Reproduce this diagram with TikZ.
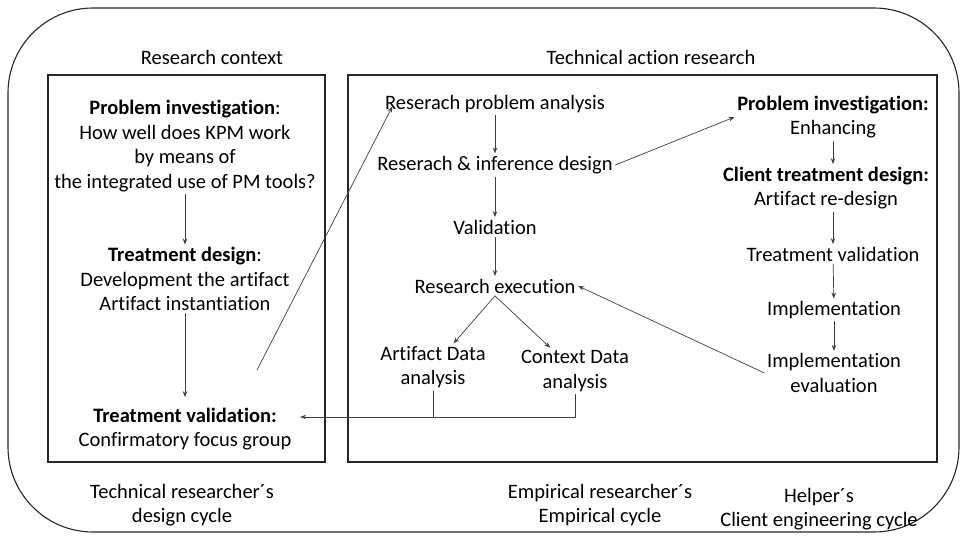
\documentclass[tikz,border=0pt]{standalone}
\usepackage{fontspec}
\setmainfont{Carlito}[Ligatures={NoCommon}]
\usetikzlibrary{arrows.meta}
\tikzset{
  txt/.style={align=center, inner sep=2.5pt, font=\fontsize{20.5}{24.5}\selectfont},
  arr/.style={draw=black!75, line width=0.7pt, -{Stealth[length=6pt,width=4.5pt]}},
  frame/.style={draw=black!85, line width=1.1pt}
}

\begin{document}
\begin{tikzpicture}[x=1pt,y=-1pt]
\useasboundingbox (0,0) rectangle (962,536);
\draw[frame, rounded corners=85pt] (8,8) rectangle (959,532);
\draw[frame] (48,75) rectangle (325,462);
\draw[frame] (348,75) rectangle (937,462);
% headings
\node[txt] (ctx) at (212,57) {Research context};
\node[txt] (tar) at (651,57) {Technical action research};
% design cycle
\node[txt] (pinv) at (185,146) {\textbf{Problem investigation}:\\How well does KPM work\\by means of\\the integrated use of PM tools?};
\node[txt] (tdes) at (185,279) {\textbf{Treatment design}:\\Development the artifact\\Artifact instantiation};
\node[txt] (tval) at (185,429) {\textbf{Treatment validation:}\\Confirmatory focus group};
% empirical cycle
\node[txt] (rpa) at (495,104) {Reserach problem analysis};
\node[txt] (rid) at (495,165) {Reserach \& inference design};
\node[txt] (val) at (495,227) {Validation};
\node[txt] (rex) at (495,286) {Research execution};
\node[txt] (ada) at (433,367) {Artifact Data\\analysis};
\node[txt] (cda) at (575,371) {Context Data\\analysis};
% client engineering cycle
\node[txt] (pinvc) at (833,117) {\textbf{Problem investigation:}\\Enhancing};
\node[txt] (ctd) at (826,188) {\textbf{Client treatment design:}\\Artifact re-design};
\node[txt] (tvalc) at (833,254) {Treatment validation};
\node[txt] (impl) at (834,310) {Implementation};
\node[txt] (ieval) at (834,373) {Implementation\\evaluation};
% cycle names
\node[txt] (dcyc) at (182,505) {Technical researcher´s\\design cycle};
\node[txt] (ecyc) at (600,505) {Empirical researcher´s\\Empirical cycle};
\node[txt] (ccyc) at (819,509) {Helper´s\\Client engineering cycle};

\coordinate (lt) at (257,370);
\coordinate (tin) at ([xshift=6pt,yshift=12pt]tval.east);
\draw[arr] (pinv) -- (tdes);
\draw[arr] (tdes.south) -- ([yshift=8pt]tval.north);
\draw[arr] (lt) -- ([xshift=10pt,yshift=9pt]rpa.south west);
\draw[arr] (rpa) -- (rid);
\draw[arr] (rid) -- (val);
\draw[arr] (val) -- (rex);
\draw[arr] (rex.south) -- (ada);
\draw[arr] (rex.south) -- (cda);
\draw[arr] (cda.south) |- (tin);
\draw[draw=black!75, line width=0.7pt] (ada.south) -- (ada.south |- tin);
\draw[arr] (rid.east) -- (pinvc.west);
\draw[arr] (pinvc.south) -- (pinvc.south |- ctd.north);
\draw[arr] (tvalc.north |- ctd.south) -- (tvalc.north);
\draw[arr] (tvalc) -- (impl);
\draw[arr] (impl) -- (ieval);
\draw[arr] (ieval.west) -- (rex.east);
\end{tikzpicture}
\end{document}
